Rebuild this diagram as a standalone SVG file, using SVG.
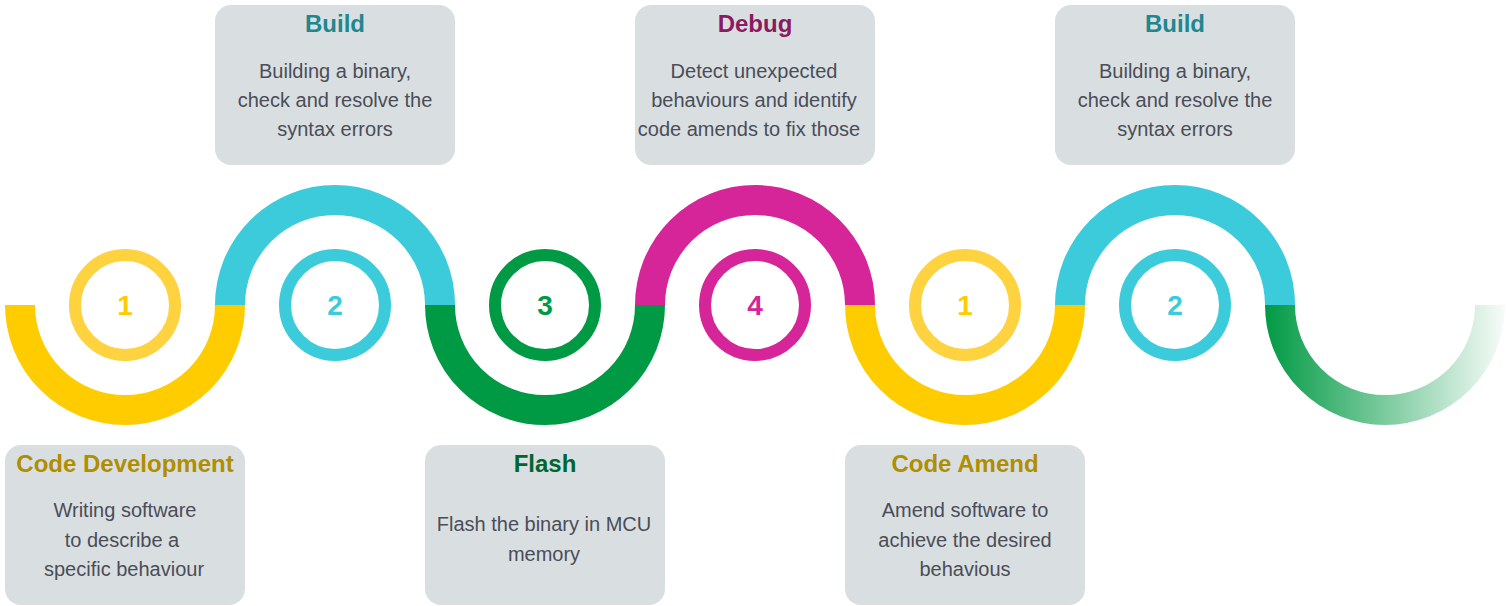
<svg xmlns="http://www.w3.org/2000/svg" width="1506" height="606" viewBox="0 0 1506 606">
<style>
.box{fill:#D9DFE1}
.arc{fill:none;stroke-width:30}
.ring{fill:none;stroke-width:12}
.num{font-family:"Liberation Sans",Arial,sans-serif;font-weight:bold;font-size:28px;text-anchor:middle}
.title{font-family:"Liberation Sans",Arial,sans-serif;font-weight:bold;font-size:24px;text-anchor:middle}
.body{font-family:"Liberation Sans",Arial,sans-serif;font-size:20px;fill:#4A4D58;text-anchor:middle}
</style>
<defs>
<linearGradient id="fade" gradientUnits="userSpaceOnUse" x1="1265" y1="0" x2="1505" y2="0">
<stop offset="0" stop-color="#009A44" stop-opacity="1"/>
<stop offset="1" stop-color="#009A44" stop-opacity="0.03"/>
</linearGradient>
</defs>
<rect width="1506" height="606" fill="#FFFFFF"/>
<g id="connectors">
<path class="arc" stroke="#FFCC00" d="M20 305 A105 105 0 0 0 230 305"/>
<path class="arc" stroke="#3BCBDA" d="M230 305 A105 105 0 0 1 440 305"/>
<path class="arc" stroke="#009A44" d="M440 305 A105 105 0 0 0 650 305"/>
<path class="arc" stroke="#D62598" d="M650 305 A105 105 0 0 1 860 305"/>
<path class="arc" stroke="#FFCC00" d="M860 305 A105 105 0 0 0 1070 305"/>
<path class="arc" stroke="#3BCBDA" d="M1070 305 A105 105 0 0 1 1280 305"/>
<path class="arc" stroke="url(#fade)" d="M1280 305 A105 105 0 0 0 1490 305"/>
</g>
<g id="step1">
<circle class="ring" cx="125" cy="305" r="50" stroke="#FFD23F"/>
<text class="num" x="125" y="315" fill="#FFCC00">1</text>
</g>
<g id="step2">
<circle class="ring" cx="335" cy="305" r="50" stroke="#3BCBDA"/>
<text class="num" x="335" y="315" fill="#3BCBDA">2</text>
</g>
<g id="step3">
<circle class="ring" cx="545" cy="305" r="50" stroke="#009A44"/>
<text class="num" x="545" y="315" fill="#009A44">3</text>
</g>
<g id="step4">
<circle class="ring" cx="755" cy="305" r="50" stroke="#D62598"/>
<text class="num" x="755" y="315" fill="#D62598">4</text>
</g>
<g id="step5">
<circle class="ring" cx="965" cy="305" r="50" stroke="#FFD23F"/>
<text class="num" x="965" y="315" fill="#FFCC00">1</text>
</g>
<g id="step6">
<circle class="ring" cx="1175" cy="305" r="50" stroke="#3BCBDA"/>
<text class="num" x="1175" y="315" fill="#3BCBDA">2</text>
</g>
<g id="box-code-development">
<rect class="box" x="5" y="445" width="240" height="160" rx="16"/>
<text class="title" x="125" y="472" fill="#B08E00">Code Development</text>
<text class="body" x="125" y="517">Writing software</text>
<text class="body" x="122" y="547">to describe a</text>
<text class="body" x="124" y="576">specific behaviour</text>
</g>
<g id="box-build-1">
<rect class="box" x="215" y="5" width="240" height="160" rx="16"/>
<text class="title" x="335" y="32" fill="#1F8790">Build</text>
<text class="body" x="335" y="78">Building a binary,</text>
<text class="body" x="335" y="107">check and resolve the</text>
<text class="body" x="335" y="136">syntax errors</text>
</g>
<g id="box-flash">
<rect class="box" x="425" y="445" width="240" height="160" rx="16"/>
<text class="title" x="545" y="472" fill="#006530">Flash</text>
<text class="body" x="544" y="531">Flash the binary in MCU</text>
<text class="body" x="544" y="561">memory</text>
</g>
<g id="box-debug">
<rect class="box" x="635" y="5" width="240" height="160" rx="16"/>
<text class="title" x="755" y="32" fill="#8C1A5F">Debug</text>
<text class="body" x="754" y="78">Detect unexpected</text>
<text class="body" x="754" y="107">behaviours and identify</text>
<text class="body" x="749" y="136">code amends to fix those</text>
</g>
<g id="box-code-amend">
<rect class="box" x="845" y="445" width="240" height="160" rx="16"/>
<text class="title" x="965" y="472" fill="#B08E00">Code Amend</text>
<text class="body" x="965" y="517">Amend software to</text>
<text class="body" x="965" y="547">achieve the desired</text>
<text class="body" x="965" y="576">behavious</text>
</g>
<g id="box-build-2">
<rect class="box" x="1055" y="5" width="240" height="160" rx="16"/>
<text class="title" x="1175" y="32" fill="#1F8790">Build</text>
<text class="body" x="1175" y="78">Building a binary,</text>
<text class="body" x="1175" y="107">check and resolve the</text>
<text class="body" x="1175" y="136">syntax errors</text>
</g>
</svg>
